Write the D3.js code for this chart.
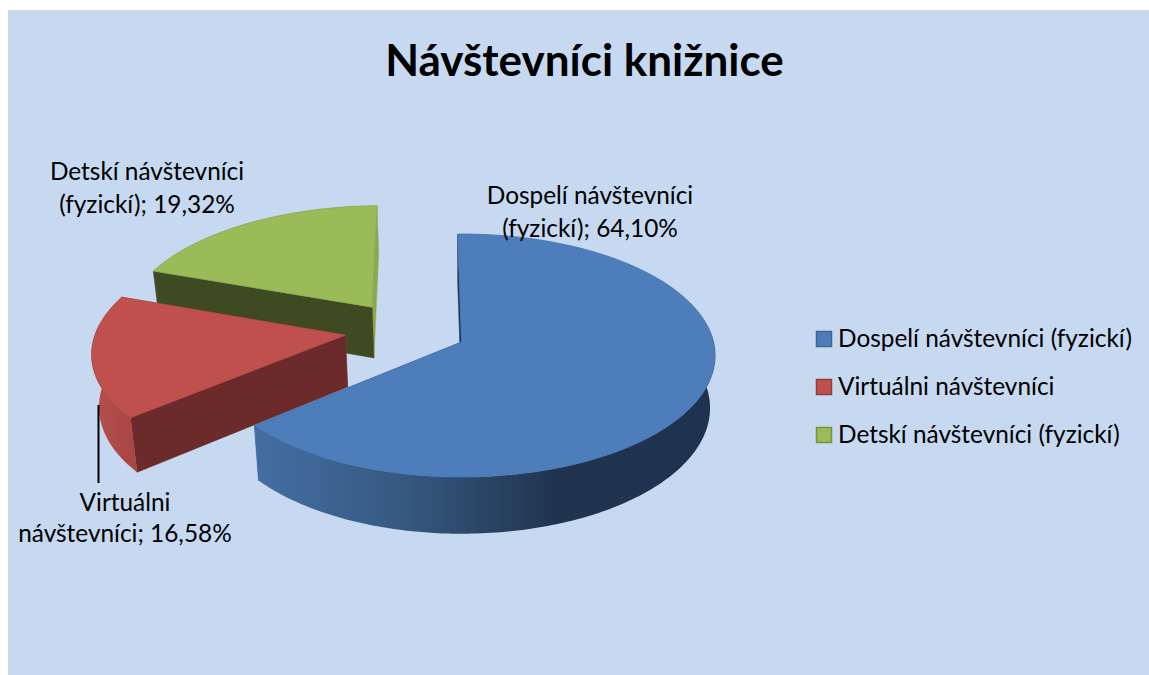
<!DOCTYPE html>
<html>
<head>
<meta charset="utf-8">
<script src="https://cdn.jsdelivr.net/npm/d3@7/dist/d3.min.js"></script>
<style>
  html, body { margin: 0; padding: 0; background: #fff; }
  svg { display: block; }
  text { font-family: Lato, "Open Sans", sans-serif; fill: #000; }
</style>
</head>
<body>
<div class="svg-container"></div>
<script>
const chartTitle = 'Návštevníci knižnice'
const categories = ['Dospelí návštevníci (fyzickí)', 'Virtuálni návštevníci', 'Detskí návštevníci (fyzickí)']
const shares = [64.10, 16.58, 19.32]
const labelBreaks = [2, 1, 2]

const topColors = ['#4d7ebb', '#c0504d', '#9bbb59']
const edgeColors = ['#4473ad', '#b04845', '#8aa84f']
const wallColors = ['#1f3554', '#6b2b2a', '#404a22']
const legendStroke = ['#3a6595', '#943c3a', '#76923c']

const width = 1149
const height = 675

// ground plane -> screen, origin sits on the apex of the first slice
const apex = { x: 461.5, y: 342 }
const radiusX = 252
const radiusY = 120
const perspective = 0.111
const pieCenter = [-0.223, 0.101]
const explosion = 0.245
const depth = 52
const rad = Math.PI / 180

const svg = d3
  .select('.svg-container')
  .append('svg')
  .attr('width', width)
  .attr('height', height)

svg.append('rect')
  .attr('x', 8)
  .attr('y', 10)
  .attr('width', width - 8)
  .attr('height', height - 10)
  .attr('fill', '#c6d9f1')

svg.append('text')
  .attr('x', 584.5)
  .attr('y', 76)
  .attr('text-anchor', 'middle')
  .style('font-size', '44px')
  .style('font-weight', 700)
  .text(chartTitle)

const defs = svg.append('defs')
addGradient('wall-0', 256, 716, [[0, '#446ea3'], [0.33, '#35587f'], [0.65, '#20344f'], [1, '#1e3350']])
addGradient('wall-1', 93, 135, [[0, '#b44f4c'], [1, '#a84643']])
addGradient('wall-2', 150, 380, [[0, '#404a22'], [1, '#404a22']])

const pie = d3.pie().sort(null).startAngle(-1 * rad).endAngle(359 * rad)
const slices = pie(shares)

// painted back to front
;[2, 1, 0].forEach((index) => drawSlice(slices[index], index))

// leader line of the virtual visitors label
svg.append('line')
  .attr('x1', 98.5).attr('x2', 98.5)
  .attr('y1', 405).attr('y2', 483)
  .attr('stroke', '#000')
  .attr('stroke-width', 2)

const labelAnchors = [[590, 204], [125, 511], [147, 180]]
const labelLeading = [33, 31, 33]

categories.forEach((name, index) => {
  const words = `${name}; ${shares[index].toFixed(2).replace('.', ',')}%`.split(' ')
  const lines = [words.slice(0, labelBreaks[index]).join(' '), words.slice(labelBreaks[index]).join(' ')]
  lines.forEach((line, row) => {
    svg.append('text')
      .attr('x', labelAnchors[index][0])
      .attr('y', labelAnchors[index][1] + row * labelLeading[index])
      .attr('text-anchor', 'middle')
      .style('font-size', '24.4px')
      .text(line)
  })
})

const legendY = d3.scalePoint().domain(categories).range([339, 435])
const legend = svg.append('g').attr('id', 'legend')

categories.forEach((name, index) => {
  legend.append('rect')
    .attr('x', 816.5)
    .attr('y', legendY(name) - 7.5)
    .attr('width', 15)
    .attr('height', 15)
    .attr('fill', topColors[index])
    .attr('stroke', legendStroke[index])
    .attr('stroke-width', 1.5)
  legend.append('text')
    .attr('x', 838)
    .attr('y', legendY(name) + 8)
    .style('font-size', '24.4px')
    .text(name)
})

function addGradient(id, x1, x2, stops) {
  const gradient = defs.append('linearGradient')
    .attr('id', id)
    .attr('gradientUnits', 'userSpaceOnUse')
    .attr('x1', x1).attr('x2', x2)
    .attr('y1', 0).attr('y2', 0)
  stops.forEach(([offset, color]) => {
    gradient.append('stop').attr('offset', offset).attr('stop-color', color)
  })
}

function project(u, v) {
  const w = 1 + perspective * v
  return [apex.x + radiusX * u / w, apex.y - radiusY * v / w]
}

// the lower rim is a little narrower and a little taller on screen
function lower([x, y]) {
  return [apex.x + (x - apex.x) * 0.98, apex.y + depth + (y - apex.y) * 1.035]
}

function drawSlice(slice, index) {
  const mid = (slice.startAngle + slice.endAngle) / 2
  const origin = [
    pieCenter[0] + explosion * Math.sin(mid),
    pieCenter[1] + explosion * Math.cos(mid)
  ]
  const rim = (angle) => project(origin[0] + Math.sin(angle), origin[1] + Math.cos(angle))
  const anglesBetween = (from, to) => {
    const steps = Math.max(2, Math.ceil((to - from) / (1 * rad)))
    return d3.range(steps + 1).map((i) => from + (to - from) * i / steps)
  }
  const line = d3.line()
  const center = project(origin[0], origin[1])
  const first = rim(slice.startAngle)
  const last = rim(slice.endAngle)
  const group = svg.append('g').attr('class', 'slice')

  // radial walls, the closing one only ever shows as a thin lit strip
  ;[[last, edgeColors[index]], [first, wallColors[index]]].forEach(([point, color]) => {
    group.append('path')
      .attr('d', line([center, point, lower(point), lower(center)]) + 'Z')
      .attr('fill', color)
      .attr('stroke', color)
      .attr('stroke-width', 0.5)
  })

  // outer wall, only the part turned towards the viewer
  const from = Math.max(slice.startAngle, 85 * rad)
  const to = Math.min(slice.endAngle, 275 * rad)
  if (to > from) {
    const upper = anglesBetween(from, to).map(rim)
    group.append('path')
      .attr('d', line(upper.concat(upper.map(lower).reverse())) + 'Z')
      .attr('fill', `url(#wall-${index})`)
  }

  // top face
  const outline = anglesBetween(slice.startAngle, slice.endAngle).map(rim)
  group.append('path')
    .attr('d', line([center].concat(outline)) + 'Z')
    .attr('fill', topColors[index])
    .attr('stroke', edgeColors[index])
    .attr('stroke-width', 0.8)
}
</script>
</body>
</html>
